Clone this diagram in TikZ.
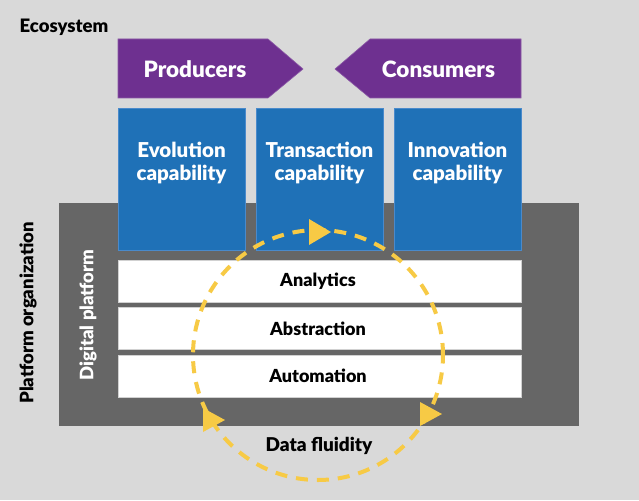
\documentclass[tikz,border=0pt]{standalone}
\usepackage{fontspec}
\setmainfont{Lato}[BoldFont={Lato Black}]
\definecolor{bg}{HTML}{D9D9D9}
\definecolor{purp}{HTML}{6E3090}
\definecolor{blu}{HTML}{1F71B7}
\definecolor{bluedge}{HTML}{4A8ACB}
\definecolor{dgrey}{HTML}{666666}
\definecolor{yel}{HTML}{F7CA45}
\begin{document}
\begin{tikzpicture}[x=1pt,y=-1pt,
  capbox/.style={fill=blu,draw=bluedge,line width=0.8pt,minimum width=127pt,minimum height=142pt,inner sep=0pt},
  layerbar/.style={fill=white,draw=black!18,line width=0.8pt,minimum width=403pt,minimum height=42pt,inner sep=0pt},
  pointer/.style={fill=purp,draw=purp!80!white,line width=0.6pt},
  captext/.style={text=white,font=\fontsize{20.5}{23}\selectfont\bfseries,align=center,inner sep=0pt},
  bartext/.style={text=black,font=\fontsize{18}{20}\selectfont\bfseries,inner sep=0pt},
  headtext/.style={text=white,font=\fontsize{22.5}{25}\selectfont\bfseries,inner sep=0pt},
  sidetext/.style={font=\fontsize{18.5}{21}\selectfont\bfseries,inner sep=0pt,rotate=90},
  flow/.style={draw=yel,line width=4pt,dash pattern=on 12pt off 9pt},
  flowhead/.style={fill=yel}
]
\fill[bg] (0,0) rectangle (639,500);
\useasboundingbox (0,0) rectangle (639,500);

\node[font=\fontsize{18.5}{21}\selectfont\bfseries,inner sep=0pt] (eco) at (64,27) {Ecosystem};

% purple pointers
\draw[pointer] (118,39) -- (268,39) -- (303,69) -- (268,98) -- (118,98) -- cycle;
\draw[pointer] (335,69) -- (370,39) -- (521,39) -- (521,98) -- (370,98) -- cycle;
\node[headtext] (prod) at (195,69) {Producers};
\node[headtext] (cons) at (438.5,69) {Consumers};

% platform organization
\fill[dgrey] (59,203) rectangle (579,426);

% capability boxes
\node[capbox] (evo) at (181.5,179) {};
\node[capbox] (tra) at (319.5,179) {};
\node[capbox] (inn) at (457.5,179) {};
\node[captext] (evot) at (181.5,162.5) {Evolution\\capability};
\node[captext] (trat) at (319.5,162.5) {Transaction\\capability};
\node[captext] (innt) at (457.5,162.5) {Innovation\\capability};

% layers
\node[layerbar] (ana) at (319.5,281) {};
\node[layerbar] (abs) at (319.5,328.5) {};
\node[layerbar] (aut) at (319.5,376) {};
\node[bartext] (anat) at (318,281) {Analytics};
\node[bartext] (abst) at (318,328.5) {Abstraction};
\node[bartext] (autt) at (318,376) {Automation};

% side labels
\node[sidetext] (porg) at (28,313) {Platform organization};
\node[sidetext,text=white] (dplat) at (88,315) {Digital platform};

% data fluidity loop
\coordinate (c) at (318,355);
\draw[flow] (c) circle (125pt);
\fill[flowhead] (309,219) -- (331,232) -- (309,245) -- cycle;
\fill[flowhead] (203,408) -- (225,420) -- (203,432) -- cycle;
\fill[flowhead] (420,402) -- (442,414) -- (420,426) -- cycle;
\node[font=\fontsize{19}{21}\selectfont\bfseries,inner sep=0pt] (fluid) at (319,446) {Data fluidity};
\end{tikzpicture}
\end{document}
